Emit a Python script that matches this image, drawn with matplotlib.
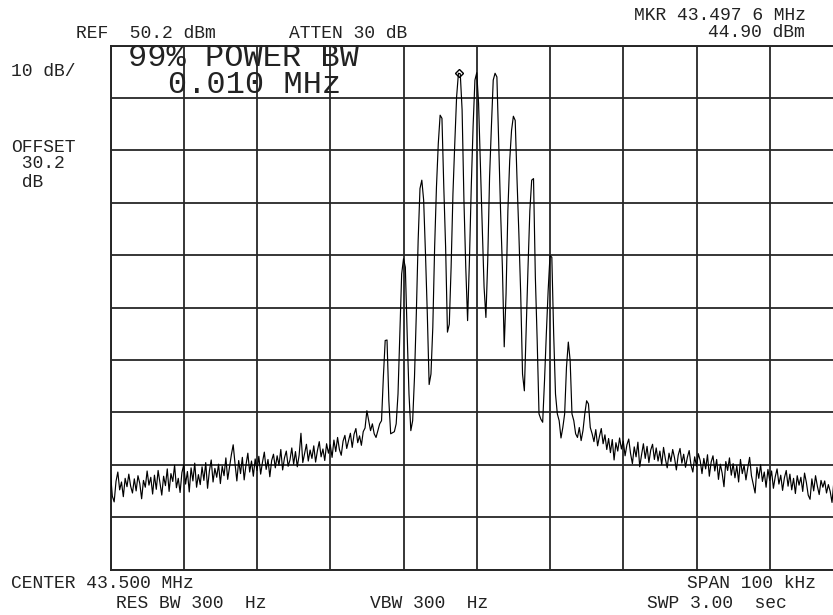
import numpy as np
import matplotlib
matplotlib.use("Agg")
import matplotlib.pyplot as plt

# ---- instrument settings / annotation text ----
center_mhz = 43.500
span_mhz = 0.100
ref_dbm = 50.2
db_per_div = 10
n_points = 401
marker_mhz = 43.4976
marker_dbm = 44.90

# ---- trace values (dBm) ----
noise_left = [
    -31.5, -35.8, -36.9, -33.0, -31.2, -34.6, -33.1, -35.9, -32.4, -34.0,
    -31.6, -33.9, -35.2, -32.5, -34.8, -31.9, -33.4, -36.3, -32.8, -34.1,
    -31.0, -33.7, -32.2, -35.4, -31.8, -34.5, -30.9, -33.2, -35.6, -32.0,
    -33.8, -30.6, -34.9, -31.5, -33.0, -29.9, -34.2, -32.4, -35.1, -31.3,
    -29.8, -33.5, -31.1, -35.0, -30.4, -32.9, -29.5, -34.1, -31.7, -33.6,
    -30.2, -32.8, -29.4, -34.3, -31.0, -28.9, -33.1, -30.5, -32.2, -29.7,
    -33.4, -30.1, -31.9, -28.5, -32.6, -30.3, -27.9, -26.0, -29.6, -32.9,
    -29.0, -31.5, -28.4, -32.7, -29.8, -27.6, -31.2, -29.1, -32.0, -28.7,
    -30.9, -28.2, -31.6, -29.3, -27.4, -30.7, -28.8, -32.1, -29.0, -27.8,
    -30.4, -28.1, -29.9, -26.9, -30.8, -28.5, -27.2, -30.1, -28.9, -26.6,
    -29.7, -27.3, -30.2, -28.0, -23.8, -29.4, -27.7, -25.9, -29.1, -27.0,
    -28.6, -26.2, -29.3, -27.1, -25.4, -28.3, -26.8, -29.0, -25.8, -27.6,
    -26.0, -28.4, -25.1, -27.3, -24.6, -26.9, -28.0, -25.3, -24.2, -26.7,
    -25.2, -23.8, -26.5, -24.0, -22.9, -25.6, -24.3, -26.1, -23.5, -22.8,
]

signal_center = [
    -19.5, -21.4, -23.3, -22.0, -23.9, -24.6, -23.3, -22.0, -21.4, -13.1,
    -6.1, -6.0, -17.6, -23.9, -23.7, -23.5, -22.0, -16.3, -4.8, 6.6,
    9.5, 7.9, -4.8, -16.3, -23.3, -21.4, -13.1, -1.0, 13.0, 22.9,
    24.5, 20.7, 10.5, -1.0, -14.5, -12.5, -3.6, 11.7, 23.2, 31.5,
    36.9, 36.3, 23.2, 11.7, -4.5, -3.0, 7.9, 21.9, 31.5, 40.4,
    44.9, 44.8, 37.9, 20.7, 7.9, -2.3, 9.2, 23.2, 34.7, 43.6,
    45.0, 39.1, 27.0, 15.6, 4.1, -1.7, 9.2, 25.1, 34.7, 43.6,
    44.9, 44.2, 31.5, 18.7, 7.9, -7.3, 2.8, 18.7, 28.3, 34.0,
    36.7, 35.9, 24.5, 14.3, 2.8, -12.5, -15.7, -3.6, 7.9, 18.7,
    24.5, 24.8, 6.0, -6.1, -20.1, -21.1, -21.7, -13.8, -4.8, 3.5,
    10.1, 9.8, -4.8, -16.3, -20.1, -21.4, -24.7, -22.7, -20.1, -11.2,
    -6.4, -9.9, -20.1, -21.4, -23.9, -24.6, -22.7, -25.2, -23.3, -20.1,
    -17.6, -18.2,
]

noise_right = [
    -22.7, -23.9, -25.4, -23.1, -26.2, -24.4, -22.9, -25.8,
    -24.1, -26.9, -24.8, -27.5, -25.0, -28.9, -25.6, -27.2, -24.7, -26.8,
    -25.3, -28.1, -26.0, -24.9, -27.7, -29.6, -26.4, -28.3, -25.5, -30.2,
    -27.9, -25.8, -28.6, -26.3, -29.4, -27.0, -25.9, -28.8, -26.6, -29.1,
    -27.2, -29.8, -26.5, -28.7, -30.4, -27.6, -29.2, -26.9, -28.5, -30.8,
    -28.0, -26.7, -29.5, -27.8, -30.3, -28.4, -27.1, -29.9, -31.2, -28.3,
    -30.1, -27.7, -29.0, -31.5, -28.6, -30.6, -27.9, -32.0, -29.3, -28.1,
    -31.0, -28.8, -32.6, -29.7, -31.4, -34.0, -29.2, -30.9, -28.5, -31.8,
    -29.6, -32.3, -30.0, -33.1, -28.8, -31.5, -29.9, -32.7, -30.4, -28.4,
    -31.9, -33.6, -35.2, -30.3, -32.4, -29.8, -33.0, -31.2, -34.1, -30.7,
    -32.8, -31.0, -34.3, -32.1, -30.6, -33.5, -31.8, -34.7, -32.3, -30.9,
    -33.9, -31.6, -34.6, -32.4, -35.3, -31.9, -33.7, -32.2, -34.9, -31.4,
    -33.2, -35.6, -36.4, -32.5, -34.8, -31.9, -33.9, -35.5, -32.8, -34.1,
    -32.9, -35.2, -33.6, -34.9, -37.0, -33.1, -35.4, -32.7, -34.6, -36.2,
    -33.8,
]

top_labels = [
    ("REF  50.2 dBm", 76.0, 38.3),
    ("ATTEN 30 dB", 289.0, 38.3),
    ("MKR 43.497 6 MHz", 634.0, 20.0),
    ("44.90 dBm", 708.0, 36.7),
    ("10 dB/", 11.0, 76.0),
    ("OFFSET", 11.0, 151.7),
    (" 30.2", 11.0, 167.7),
    (" dB", 11.0, 187.0),
    ("CENTER 43.500 MHz", 11.0, 588.3),
    ("SPAN 100 kHz", 687.0, 588.3),
    ("RES BW 300  Hz", 116.0, 608.3),
    ("VBW 300  Hz", 370.0, 608.3),
    ("SWP 3.00  sec", 647.0, 608.3),
]
big_labels = [
    ("99% POWER BW", 128.0, 65.7),
    ("0.010 MHz", 167.5, 93.3),
]

# ---- figure ----
W, H = 833, 615
fig = plt.figure(figsize=(W / 100, H / 100), dpi=100)
fig.patch.set_facecolor("white")

left_px, right_px, top_px, bottom_px = 110.5, 843.0, 45.5, 569.5
ax = fig.add_axes([left_px / W, 1 - bottom_px / H,
                   (right_px - left_px) / W, (bottom_px - top_px) / H])

trace = np.array(noise_left + signal_center + noise_right)
f_start = center_mhz - span_mhz / 2
f_stop = center_mhz + span_mhz / 2
freqs = np.linspace(f_start, f_stop, len(trace))

y_top = ref_dbm
y_bot = ref_dbm - 10 * db_per_div

ax.set_xlim(f_start, f_stop)
ax.set_ylim(y_bot, y_top)
ax.set_xticks(np.linspace(f_start, f_stop, 11))
ax.set_yticks(np.linspace(y_bot, y_top, 11))
ax.grid(True, color="#262626", linewidth=1.3)
ax.tick_params(length=0, labelbottom=False, labelleft=False)
for s in ax.spines.values():
    s.set_color("#262626")
    s.set_linewidth(1.4)
ax.set_axisbelow(True)

ax.plot(freqs, trace, color="black", linewidth=0.85, zorder=3)
ax.plot([marker_mhz], [marker_dbm], marker="D", markersize=4,
        markerfacecolor="none", markeredgecolor="black", markeredgewidth=1.0,
        zorder=4)

mono = "Liberation Mono"
for txt, x, y in top_labels:
    fig.text(x / W, 1 - y / H, txt, family=mono, fontsize=13,
             ha="left", va="baseline", color="#222222")
for txt, x, y in big_labels:
    fig.text(x / W, 1 - y / H, txt, family=mono, fontsize=23,
             ha="left", va="baseline", color="#222222")

fig.savefig("out.png", dpi=100, facecolor="white")
